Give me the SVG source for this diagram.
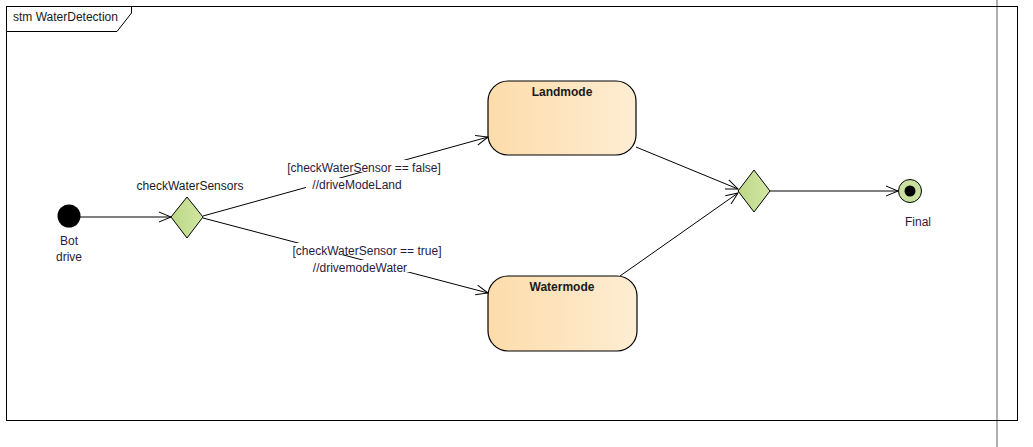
<svg xmlns="http://www.w3.org/2000/svg" width="1033" height="447" viewBox="0 0 1033 447">
<style>
text{font-family:"Liberation Sans","Open Sans",Arial,sans-serif;font-size:12px;fill:#1a1a1a}
.lbl{fill:#2b1a3a}
.bold{font-weight:bold}
.edge{stroke:#000;stroke-width:1;fill:none;marker-end:url(#arr)}
.state{stroke:#000;stroke-width:1.2;fill:url(#sg)}
.dec{stroke:#000;stroke-width:1;fill:url(#dg)}
</style>
<defs>
<linearGradient id="sg" x1="0" y1="0" x2="1" y2="0"><stop offset="0" stop-color="#fddcab"/><stop offset="1" stop-color="#fdedd2"/></linearGradient>
<linearGradient id="dg" x1="0" y1="0" x2="1" y2="0"><stop offset="0" stop-color="#bcd886"/><stop offset="1" stop-color="#d2e6a4"/></linearGradient>
<marker id="arr" markerWidth="14" markerHeight="12" refX="13" refY="6" orient="auto" markerUnits="userSpaceOnUse"><path d="M1,1 L13,6 L1,11" fill="none" stroke="#000" stroke-width="1"/></marker>
</defs>
<rect width="1033" height="447" fill="#fff"/>
<line x1="997" y1="0" x2="997" y2="447" stroke="#b0b0b0" stroke-width="2"/>
<rect x="6.5" y="6.5" width="1011" height="414" fill="none" stroke="#000" stroke-width="1"/>
<g id="frame-label">
<path d="M6.5,6.5 H131.5 V13 L117,31.5 H6.5 Z" fill="#fff" stroke="#000" stroke-width="1"/>
<text x="13" y="21">stm WaterDetection</text>
</g>
<g id="connectors">
<line class="edge" x1="80" y1="217" x2="171" y2="217"/>
<line class="edge" x1="203" y1="216" x2="488" y2="137"/>
<line class="edge" x1="203" y1="218" x2="488" y2="293"/>
<line class="edge" x1="636" y1="147" x2="738" y2="189"/>
<line class="edge" x1="620" y1="276" x2="738" y2="193"/>
<line class="edge" x1="770" y1="191" x2="898" y2="191"/>
<g id="label-false">
<rect x="284" y="160" width="160" height="12" fill="#fff"/>
<rect x="306" y="178" width="102" height="12" fill="#fff"/>
<text class="lbl" x="364" y="172" text-anchor="middle">[checkWaterSensor == false]</text>
<text class="lbl" x="357" y="189" text-anchor="middle">//driveModeLand</text>
</g>
<g id="label-true">
<rect x="290" y="243" width="154" height="12" fill="#fff"/>
<rect x="305" y="260" width="110" height="12" fill="#fff"/>
<text class="lbl" x="367" y="255" text-anchor="middle">[checkWaterSensor == true]</text>
<text class="lbl" x="360" y="272" text-anchor="middle">//drivemodeWater</text>
</g>
</g>
<g id="initial">
<circle cx="69" cy="216" r="11.5" fill="#000"/>
<text class="lbl" x="69" y="245" text-anchor="middle">Bot</text>
<text class="lbl" x="69" y="261" text-anchor="middle">drive</text>
</g>
<g id="checkWaterSensors">
<path class="dec" d="M187,197 L203,217 L187,238 L171,217 Z"/>
<text x="190" y="190" text-anchor="middle">checkWaterSensors</text>
</g>
<g id="Landmode">
<rect class="state" x="488" y="81" width="148" height="74" rx="20"/>
<text class="bold" x="562" y="96" text-anchor="middle">Landmode</text>
</g>
<g id="Watermode">
<rect class="state" x="488" y="276" width="149" height="75" rx="20"/>
<text class="bold" x="562" y="291" text-anchor="middle">Watermode</text>
</g>
<g id="merge">
<path class="dec" d="M754,170 L770,191 L754,212 L738,191 Z"/>
</g>
<g id="Final">
<circle cx="910" cy="191" r="11.5" fill="#c8e0a0" stroke="#000" stroke-width="1"/>
<circle cx="910" cy="191" r="5.5" fill="#000"/>
<text class="lbl" x="918" y="226" text-anchor="middle">Final</text>
</g>
</svg>
